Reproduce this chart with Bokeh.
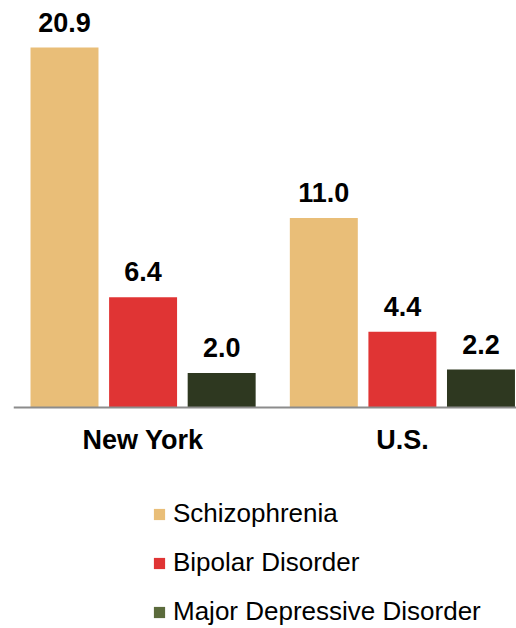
from bokeh.plotting import figure
from bokeh.models import (Range1d, FixedTicker, ColumnDataSource, LabelSet, Legend,
                          LegendItem, LinearAxis)
from bokeh.core.properties import value
from bokeh.embed import file_html
from bokeh.resources import INLINE

# ---- data ----
groups = ["New York", "U.S."]
disorders = ["Schizophrenia", "Bipolar Disorder", "Major Depressive Disorder"]
schizophrenia = [20.9, 11.0]
bipolar = [6.4, 4.4]
major_depressive = [2.0, 2.2]
series = [schizophrenia, bipolar, major_depressive]

bar_colors = ["#E9BE78", "#E03434", "#2E3820"]
legend_colors = ["#E9BE78", "#E03434", "#5B6B3C"]

GROUP_GAP = 0.3
BAR_W = 0.865
FONT = "Liberation Sans"

W, H = 516, 628
LEFT = 13
PX_PER_UNIT = 17.22
BASE_PX_FROM_BOTTOM = 221

p = figure(width=W, height=H, output_backend="svg", toolbar_location=None,
           x_range=Range1d(-0.649, 5.752),
           y_range=Range1d(-BASE_PX_FROM_BOTTOM / PX_PER_UNIT, (H - BASE_PX_FROM_BOTTOM) / PX_PER_UNIT),
           x_axis_location=None, y_axis_location=None,
           min_border_left=LEFT, min_border_right=0, min_border_top=0, min_border_bottom=0,
           title=None)
p.outline_line_color = None
p.xgrid.visible = False
p.ygrid.visible = False
p.background_fill_color = "white"
p.border_fill_color = "white"

n = len(disorders)
legend_items = []
for di, (name, vals) in enumerate(zip(disorders, series)):
    xs = [gi * (n + GROUP_GAP) + di for gi in range(len(groups))]
    src = ColumnDataSource(dict(x=xs, top=vals, label=[f"{v:.1f}" for v in vals]))
    p.vbar(x="x", top="top", bottom=0, width=BAR_W, source=src,
           fill_color=bar_colors[di], line_color=None)
    lab = LabelSet(x="x", y="top", text="label", source=src, text_align="center",
                   text_baseline="alphabetic", y_offset=16, text_font=value(FONT),
                   text_font_size="27px", text_font_style="bold", text_color="black")
    p.add_layout(lab)
    dummy = p.vbar(x="x", top="top", width=BAR_W, source=src, fill_color=legend_colors[di],
                   line_color=None, visible=False)
    legend_items.append(LegendItem(label=name, renderers=[dummy]))

centers = [gi * (n + GROUP_GAP) + (n - 1) / 2 for gi in range(len(groups))]
xaxis = LinearAxis(fixed_location=0, ticker=FixedTicker(ticks=centers),
                   major_label_overrides={c: g for c, g in zip(centers, groups)})
xaxis.axis_line_color = "#8C8C8C"
xaxis.axis_line_width = 2
xaxis.major_tick_line_color = None
xaxis.minor_tick_line_color = None
xaxis.major_tick_out = 0
xaxis.major_tick_in = 0
xaxis.major_label_standoff = 17
xaxis.major_label_text_font = FONT
xaxis.major_label_text_font_size = "27px"
xaxis.major_label_text_font_style = "bold"
xaxis.major_label_text_color = "black"
p.add_layout(xaxis, "below")

legend = Legend(items=legend_items, location=(152 - LEFT, 1), orientation="vertical",
                glyph_width=14, glyph_height=14, label_standoff=7, label_height=30,
                spacing=18, padding=0, margin=0, border_line_color=None,
                background_fill_alpha=0, label_text_font=FONT,
                label_text_font_size="26px", label_text_color="black", click_policy="none")
p.add_layout(legend, "center")

open("out.html", "w").write(file_html(p, INLINE))
